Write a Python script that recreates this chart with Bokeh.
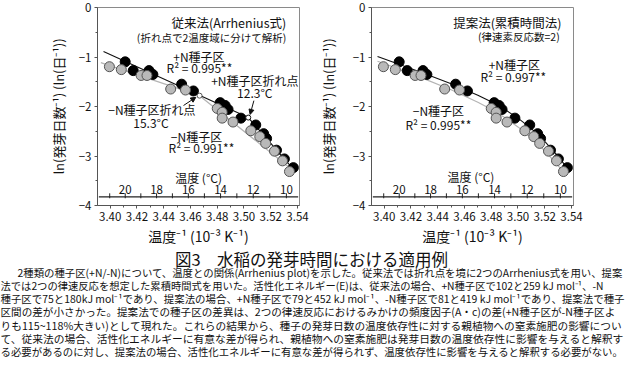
from bokeh.plotting import figure
from bokeh.models import Range1d, FixedTicker, Arrow, NormalHead, PrintfTickFormatter, CustomJSTickFormatter
from bokeh.layouts import column, row
from bokeh.embed import file_html
from bokeh.resources import INLINE
from bokeh.core.properties import value

FONT = "Noto Sans CJK JP"

# ---------------- data ----------------
PN_X = [3.4112, 3.4172, 3.4290, 3.4319, 3.4534, 3.4622, 3.4822, 3.4859, 3.4881, 3.4977, 3.5088, 3.5147, 3.5169, 3.5243, 3.5302, 3.5369]
PN_Y = [-1.098, -1.275, -1.275, -1.353, -1.549, -1.686, -1.922, -1.980, -2.059, -2.235, -2.373, -2.549, -2.647, -2.882, -3.059, -3.235]
MN_X = [3.3994, 3.4083, 3.4231, 3.4275, 3.4452, 3.4563, 3.4800, 3.4837, 3.4837, 3.4918, 3.5051, 3.5118, 3.5162, 3.5228, 3.5288, 3.5340]
MN_Y = [-1.196, -1.255, -1.373, -1.373, -1.647, -1.667, -2.039, -2.118, -2.235, -2.314, -2.490, -2.608, -2.745, -2.902, -3.098, -3.314]

# conventional method (Arrhenius, two segments with break point)
CONV_PN_X = [3.395, 3.5032, 3.538]
CONV_PN_Y = [-0.89, -2.224, -3.30]
CONV_MN_X = [3.393, 3.4668, 3.536]
CONV_MN_Y = [-1.115, -1.781, -3.279]
BREAK_PN_X = [3.5032]
BREAK_PN_Y = [-2.224]
BREAK_MN_X = [3.4668]
BREAK_MN_Y = [-1.781]

# proposed method (cumulative time) fitted curves
PROP_PN_X = [3.395, 3.41, 3.43, 3.45, 3.47, 3.48, 3.49, 3.50, 3.51, 3.52, 3.53, 3.538]
PROP_PN_Y = [-0.990, -1.135, -1.332, -1.540, -1.771, -1.905, -2.057, -2.235, -2.448, -2.704, -3.008, -3.286]
PROP_MN_X = [3.395, 3.41, 3.43, 3.45, 3.47, 3.48, 3.49, 3.50, 3.51, 3.52, 3.53, 3.536]
PROP_MN_Y = [-1.085, -1.235, -1.442, -1.662, -1.913, -2.057, -2.221, -2.412, -2.634, -2.894, -3.195, -3.395]

X_TICKS = [3.40, 3.42, 3.44, 3.46, 3.48, 3.50, 3.52, 3.54]
X_MINOR = [3.39, 3.41, 3.43, 3.45, 3.47, 3.49, 3.51, 3.53]
Y_TICKS = [0, -1, -2, -3, -4]
Y_MINOR = [-0.5, -1.5, -2.5, -3.5]
TEMP_LABELS = [20, 18, 16, 14, 12, 10]
TEMP_MINOR = [21, 20, 19, 18, 17, 16, 15, 14, 13, 12, 11, 10]

CAPTION_TITLE = "図3　水稲の発芽時間における適用例"
CAPTION_LINES = [
    "2種類の種子区(+N/-N)について、温度との関係(Arrhenius plot)を示した。従来法では折れ点を境に2つのArrhenius式を用い、提案",
    "法では2つの律速反応を想定した累積時間式を用いた。活性化エネルギー(E)は、従来法の場合、+N種子区で102と259 kJ mol⁻¹、-N",
    "種子区で75と180kJ mol⁻¹であり、提案法の場合、+N種子区で79と452 kJ mol⁻¹、-N種子区で81と419 kJ mol⁻¹であり、提案法で種子",
    "区間の差が小さかった。提案法での種子区の差異は、2つの律速反応におけるみかけの頻度因子(A・c)の差(+N種子区が-N種子区よ",
    "りも115~118%大きい)として現れた。これらの結果から、種子の発芽日数の温度依存性に対する親植物への窒素施肥の影響につい",
    "て、従来法の場合、活性化エネルギーに有意な差が得られ、親植物への窒素施肥は発芽日数の温度依存性に影響を与えると解釈す",
    "る必要があるのに対し、提案法の場合、活性化エネルギーに有意な差が得られず、温度依存性に影響を与えると解釈する必要がない。",
]
CAPTION_SIZES = [10.4, 10.3, 10.45, 10.6, 10.7, 10.75, 10.4]

XR = (3.3905, 3.5415)
YR = (-4.0, 0.0)
T_LINE_Y = -3.824
T_LABEL_Y = -3.686


def temp_to_x(t):
    return 1000.0 / (t + 273.15)


def txt(p, x, y, s, size="12px", align="center"):
    p.text(x=[x], y=[y], text=[s], text_font=value(FONT), text_font_size=value(size),
           text_align=align, text_baseline="middle", text_color="#111111")


def make_panel(left, right, ylabel_standoff):
    p = figure(frame_width=202, frame_height=198, min_border_left=left, min_border_right=right,
               min_border_top=7, min_border_bottom=39,
               x_range=Range1d(*XR), y_range=Range1d(*YR),
               output_backend="svg", toolbar_location=None)
    p.xgrid.visible = False
    p.ygrid.visible = False
    p.outline_line_color = "#8a8a8a"
    p.background_fill_color = "white"
    p.border_fill_color = "white"
    p.xaxis.ticker = FixedTicker(ticks=X_TICKS, minor_ticks=X_MINOR)
    p.yaxis.ticker = FixedTicker(ticks=Y_TICKS, minor_ticks=Y_MINOR)
    p.xaxis.formatter = PrintfTickFormatter(format="%.2f")
    p.yaxis.formatter = CustomJSTickFormatter(code="return tick == 0 ? '0' : '\u2212' + Math.abs(tick).toFixed(0);")
    for ax in (p.xaxis[0], p.yaxis[0]):
        ax.axis_line_color = "#555555"
        ax.major_tick_line_color = "#555555"
        ax.minor_tick_line_color = "#555555"
        ax.major_tick_out = 3
        ax.major_tick_in = 0
        ax.minor_tick_out = 2
        ax.minor_tick_in = 0
        ax.major_label_text_font = FONT
        ax.major_label_text_font_size = "11.5px"
        ax.major_label_text_color = "#111111"
        ax.axis_label_text_font = FONT
        ax.axis_label_text_font_style = "normal"
        ax.axis_label_text_color = "#111111"
    p.xaxis.major_label_standoff = 3
    p.yaxis.major_label_standoff = 3
    p.xaxis.axis_label = "温度⁻¹ (10⁻³ K⁻¹)"
    p.xaxis.axis_label_text_font_size = "14px"
    p.xaxis.axis_label_standoff = 2
    p.yaxis.axis_label = "ln(発芽日数⁻¹) (ln(日⁻¹))"
    p.yaxis.axis_label_text_font_size = "13px"
    p.yaxis.axis_label_standoff = ylabel_standoff

    # inner temperature axis
    p.line(x=[XR[0] + 0.001, XR[1] - 0.001], y=[T_LINE_Y, T_LINE_Y], line_color="#222222", line_width=1.3)
    tx = [temp_to_x(t) for t in TEMP_MINOR]
    p.segment(x0=tx, y0=[T_LINE_Y - 0.03] * len(tx), x1=tx, y1=[T_LINE_Y + 0.07] * len(tx),
              line_color="#222222", line_width=1)
    lx = [temp_to_x(t) for t in TEMP_LABELS]
    p.text(x=lx, y=[T_LABEL_Y] * len(lx), text=[str(t) for t in TEMP_LABELS], text_font=value(FONT),
           text_font_size=value("11.5px"), text_align="center", text_baseline="middle", text_color="#111111")
    return p


# ---------------- left panel ----------------
p1 = make_panel(97, 14, 8)
p1.line(CONV_MN_X, CONV_MN_Y, line_color="#b4b4b4", line_width=1.2)
p1.line(CONV_PN_X, CONV_PN_Y, line_color="#111111", line_width=1.1)
p1.scatter(PN_X, PN_Y, size=10, fill_color="black", line_color="black")
p1.scatter(MN_X, MN_Y, size=10, fill_color="#b9b9b9", line_color="#555555", line_width=1)
p1.scatter(BREAK_PN_X, BREAK_PN_Y, size=5, fill_color="white", line_color="#111111")
p1.scatter(BREAK_MN_X, BREAK_MN_Y, size=5, fill_color="white", line_color="#555555")

txt(p1, 3.5316, -0.294, "従来法(Arrhenius式)", "12.5px", "right")
txt(p1, 3.5316, -0.608, "(折れ点で2温度域に分けて解析)", "10.5px", "right")
txt(p1, 3.4663, -0.98, "+N種子区", "12px")
txt(p1, 3.4667, -1.216, "R² = 0.995**", "12px")
txt(p1, 3.5081, -1.47, "+N種子区折れ点", "12px")
txt(p1, 3.5081, -1.725, "12.3°C", "12px")
txt(p1, 3.4312, -2.059, "−N種子区折れ点", "12px")
txt(p1, 3.4305, -2.314, "15.3°C", "12px")
txt(p1, 3.4645, -2.608, "−N種子区", "12px")
txt(p1, 3.4682, -2.824, "R² = 0.991**", "12px")
txt(p1, 3.4661, -3.431, "温度 (°C)", "12px")
p1.add_layout(Arrow(end=NormalHead(size=5, fill_color="#111111", line_color="#111111"),
                    x_start=3.5074, y_start=-1.882, x_end=3.5046, y_end=-2.16,
                    line_color="#111111", line_width=1))
p1.add_layout(Arrow(end=NormalHead(size=5, fill_color="#111111", line_color="#111111"),
                    x_start=3.4548, y_start=-1.98, x_end=3.4640, y_end=-1.815,
                    line_color="#111111", line_width=1))

# ---------------- right panel ----------------
p2 = make_panel(58, 54, 12)
p2.line(PROP_MN_X, PROP_MN_Y, line_color="#b4b4b4", line_width=1.2)
p2.line(PROP_PN_X, PROP_PN_Y, line_color="#111111", line_width=1.1)
p2.scatter(PN_X, PN_Y, size=10, fill_color="black", line_color="black")
p2.scatter(MN_X, MN_Y, size=10, fill_color="#b9b9b9", line_color="#555555", line_width=1)

txt(p2, 3.5326, -0.294, "提案法(累積時間法)", "12.5px", "right")
txt(p2, 3.5312, -0.588, "(律速素反応数=2)", "10.5px", "right")
txt(p2, 3.4973, -1.157, "+N種子区", "12px")
txt(p2, 3.4965, -1.392, "R² = 0.997**", "12px")
txt(p2, 3.4405, -2.078, "−N種子区", "12px")
txt(p2, 3.4405, -2.373, "R² = 0.995**", "12px")
txt(p2, 3.4648, -3.412, "温度 (°C)", "12px")

# ---------------- caption ----------------
p3 = figure(width=627, height=112, x_range=Range1d(0, 627), y_range=Range1d(112, 0),
            x_axis_type=None, y_axis_type=None, output_backend="svg", toolbar_location=None,
            min_border=0)
p3.outline_line_color = None
p3.xgrid.visible = False
p3.ygrid.visible = False
p3.text(x=[311], y=[10.5], text=[CAPTION_TITLE], text_font=value(FONT), text_font_size=value("16.5px"),
        text_align="center", text_baseline="middle", text_color="#111111")
line_y = [23.5 + 13.3 * i for i in range(len(CAPTION_LINES))]
line_x = [17] + [0] * (len(CAPTION_LINES) - 1)
for xx, yy, s, fs in zip(line_x, line_y, CAPTION_LINES, CAPTION_SIZES):
    p3.text(x=[xx], y=[yy], text=[s], text_font=value(FONT), text_font_size=value(f"{fs}px"),
            text_align="left", text_baseline="middle", text_color="#111111")

layout = column(row(p1, p2), p3)
open("out.html", "w").write(file_html(layout, INLINE))
